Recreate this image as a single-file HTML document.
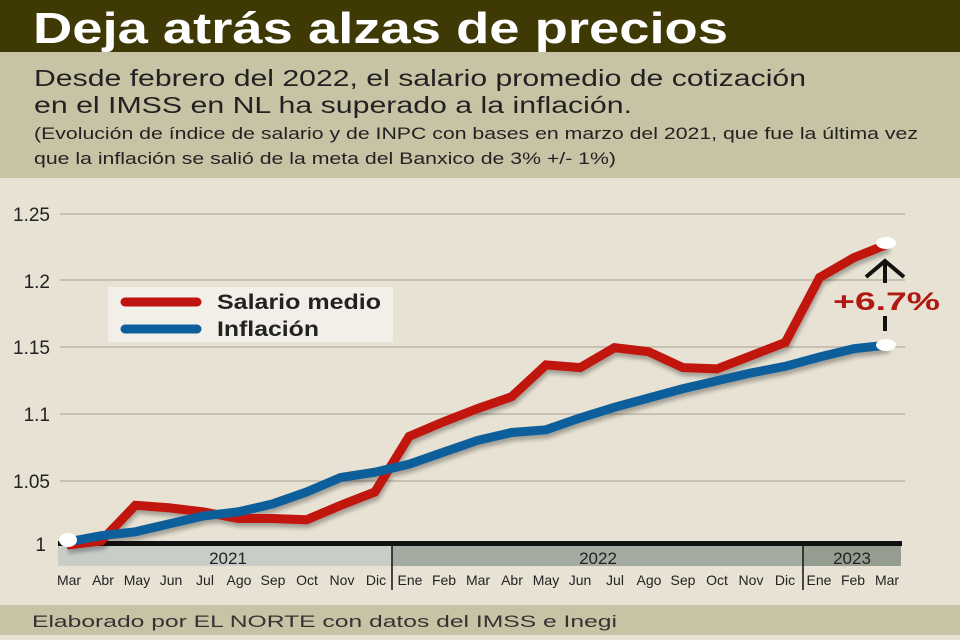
<!DOCTYPE html>
<html><head><meta charset="utf-8"><style>
body{margin:0;width:960px;height:640px;overflow:hidden;background:#e7e2d3;font-family:"Liberation Sans",sans-serif}
</style></head><body>
<svg width="960" height="640" viewBox="0 0 960 640" xmlns="http://www.w3.org/2000/svg" style="position:absolute;left:0;top:0">
<defs><filter id="sh" x="-5%" y="-5%" width="110%" height="120%"><feGaussianBlur in="SourceAlpha" stdDeviation="2"/><feOffset dx="1" dy="4"/><feComponentTransfer><feFuncA type="linear" slope="0.3"/></feComponentTransfer><feMerge><feMergeNode/><feMergeNode in="SourceGraphic"/></feMerge></filter></defs>
<rect x="0" y="0" width="960" height="52" fill="#3e3905"/>
<rect x="0" y="52" width="960" height="126" fill="#c9c3a6"/>
<rect x="0" y="178" width="960" height="427" fill="#e7e2d3"/>
<rect x="0" y="605" width="960" height="30" fill="#c9c3a6"/>
<rect x="0" y="635" width="960" height="5" fill="#e7e2d3"/>
<text x="33" y="43" font-size="44" font-weight="bold" fill="#fff" textLength="695" lengthAdjust="spacingAndGlyphs">Deja atrás alzas de precios</text>
<text x="34" y="86" font-size="23" fill="#222" textLength="772" lengthAdjust="spacingAndGlyphs">Desde febrero del 2022, el salario promedio de cotización</text>
<text x="34" y="113" font-size="23" fill="#222" textLength="598" lengthAdjust="spacingAndGlyphs">en el IMSS en NL ha superado a la inflación.</text>
<text x="34" y="139" font-size="17" fill="#222" textLength="884" lengthAdjust="spacingAndGlyphs">(Evolución de índice de salario y de INPC con bases en marzo del 2021, que fue la última vez</text>
<text x="34" y="164" font-size="17" fill="#222" textLength="582" lengthAdjust="spacingAndGlyphs">que la inflación se salió de la meta del Banxico de 3% +/- 1%)</text>
<g stroke="#bdb6a6" stroke-width="1.5">
<line x1="60" y1="214" x2="905" y2="214"/><line x1="60" y1="280" x2="905" y2="280"/><line x1="60" y1="347" x2="905" y2="347"/><line x1="60" y1="414" x2="905" y2="414"/><line x1="60" y1="481" x2="905" y2="481"/>
</g>
<g font-size="19" fill="#222" text-anchor="end">
<text x="50" y="221">1.25</text><text x="50" y="288">1.2</text><text x="50" y="354">1.15</text><text x="50" y="421">1.1</text><text x="50" y="488">1.05</text><text x="46" y="551">1</text>
</g>
<rect x="58" y="546" width="334" height="20" fill="#c8cdc8"/>
<rect x="392" y="546" width="411" height="20" fill="#a4aca2"/>
<rect x="803" y="546" width="98" height="20" fill="#959d91"/>
<rect x="58" y="541" width="844" height="5" fill="#111"/>
<line x1="392" y1="545" x2="392" y2="590" stroke="#111" stroke-width="1.5"/>
<line x1="803" y1="545" x2="803" y2="590" stroke="#111" stroke-width="1.5"/>
<g font-size="17" fill="#222" text-anchor="middle">
<text x="228" y="564">2021</text><text x="598" y="564">2022</text><text x="852" y="564">2023</text>
</g>
<g font-size="14" fill="#222" text-anchor="middle">
<text x="69" y="585">Mar</text><text x="103" y="585">Abr</text><text x="137" y="585">May</text><text x="171" y="585">Jun</text><text x="205" y="585">Jul</text><text x="239" y="585">Ago</text><text x="273" y="585">Sep</text><text x="307" y="585">Oct</text><text x="342" y="585">Nov</text><text x="376" y="585">Dic</text><text x="410" y="585">Ene</text><text x="444" y="585">Feb</text><text x="478" y="585">Mar</text><text x="512" y="585">Abr</text><text x="546" y="585">May</text><text x="580" y="585">Jun</text><text x="615" y="585">Jul</text><text x="649" y="585">Ago</text><text x="683" y="585">Sep</text><text x="717" y="585">Oct</text><text x="751" y="585">Nov</text><text x="785" y="585">Dic</text><text x="819" y="585">Ene</text><text x="853" y="585">Feb</text><text x="887" y="585">Mar</text>
</g>
<rect x="108" y="287" width="285" height="55" fill="#f2efe8"/>
<line x1="125" y1="302" x2="197" y2="302" stroke="#c0120e" stroke-width="9" stroke-linecap="round"/>
<line x1="125" y1="329" x2="197" y2="329" stroke="#0c5f9c" stroke-width="9" stroke-linecap="round"/>
<text x="217" y="309" font-size="21" font-weight="bold" fill="#222" textLength="164" lengthAdjust="spacingAndGlyphs">Salario medio</text>
<text x="217" y="336" font-size="21" font-weight="bold" fill="#222" textLength="102" lengthAdjust="spacingAndGlyphs">Inflación</text>
<g filter="url(#sh)" fill="none" stroke-width="9" stroke-linejoin="miter">
<polyline stroke="#c0120e" points="67,545 101.2,541 135.4,505.3 169.6,507.9 203.8,511.9 238.1,518.5 272.3,518.5 306.5,519.8 340.7,505.3 374.9,492 409.1,436.4 443.3,421.9 477.5,408.6 511.7,396.7 546,364.9 580.2,367.6 614.4,347.7 648.6,351.7 682.8,367.6 717,368.9 751.2,355.7 785.4,342.4 819.6,277.5 853.8,257.7 888,244"/>
<polyline stroke="#0c5f9c" points="67,542 101.2,535.7 135.4,531.8 169.6,523.8 203.8,515.9 238.1,511.9 272.3,504 306.5,492 340.7,477.5 374.9,472.2 409.1,464.2 443.3,452.3 477.5,440.4 511.7,432.5 546,429.8 580.2,417.9 614.4,407.3 648.6,398 682.8,388.8 717,380.8 751.2,372.9 785.4,366.3 819.6,357 853.8,348.7 888,345"/>
</g>
<ellipse cx="68" cy="540" rx="9" ry="7" fill="#fff"/>
<ellipse cx="886" cy="243" rx="10" ry="6" fill="#fff"/>
<ellipse cx="886" cy="345" rx="10" ry="6" fill="#fff"/>
<line x1="885" y1="262" x2="885" y2="283" stroke="#111" stroke-width="4"/>
<polyline points="866,277 885,261 904,277" fill="none" stroke="#111" stroke-width="4"/>
<line x1="885" y1="316" x2="885" y2="331" stroke="#111" stroke-width="4"/>
<text x="833" y="310" font-size="25" font-weight="bold" fill="#b01812" textLength="107" lengthAdjust="spacingAndGlyphs">+6.7%</text>
<text x="32" y="627" font-size="17" fill="#333" textLength="585" lengthAdjust="spacingAndGlyphs">Elaborado por EL NORTE con datos del IMSS e Inegi</text>
</svg>
</body></html>
